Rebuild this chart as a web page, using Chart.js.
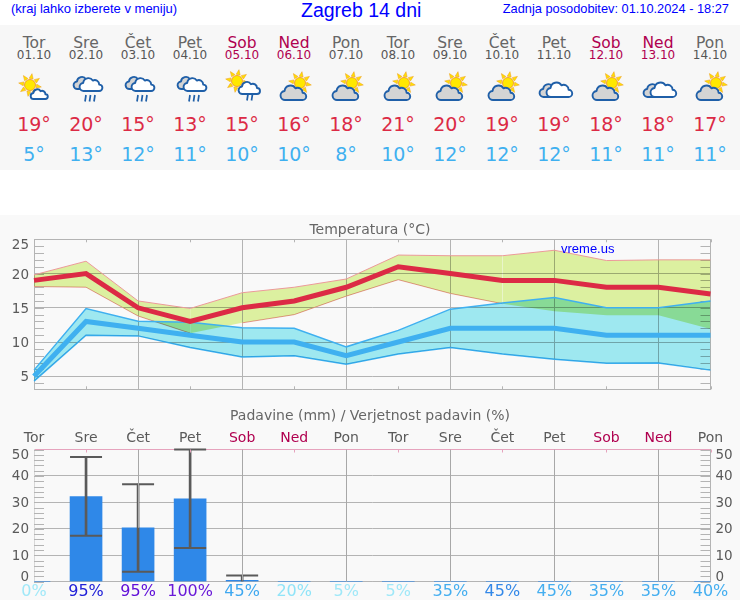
<!DOCTYPE html>
<html lang="sl">
<head>
<meta charset="utf-8">
<title>Zagreb 14 dni</title>
<script src="https://cdn.jsdelivr.net/npm/chart.js@4"></script>
<style>
	html, body { margin: 0; padding: 0; background: #f9f9f9; }
	#page { position: relative; width: 740px; height: 600px; overflow: hidden; font-family: "DejaVu Sans", sans-serif; }
	#topbar { position: absolute; left: 0; top: 0; width: 740px; height: 25px; background: #fff; color: #0000ff; font-family: "Liberation Sans", sans-serif; }
	#topbar span { position: absolute; white-space: nowrap; }
	#gap { position: absolute; left: 0; top: 170px; width: 740px; height: 45px; background: #fff; }
	#days { position: absolute; left: 0; top: 25px; width: 740px; height: 145px; background: #f7f7f7; }
	.day { position: absolute; top: 0; width: 52px; text-align: center; }
	.day div { position: absolute; left: -10px; width: 72px; white-space: nowrap; }
	.name { top: 9px; font-size: 15.5px; color: #666; }
	.date { top: 23px; font-size: 12px; color: #555; }
	.wknd .name, .wknd .date { color: #b0004f; }
	.hi { top: 88px; font-size: 19px; color: #dc2a45; }
	.lo { top: 118px; font-size: 19px; color: #3fb0f0; }
	.day svg { position: absolute; left: 8px; top: 46px; overflow: visible; }
	canvas { position: absolute; left: 0; }
	#tempChart { top: 215px; }
	#rainChart { top: 400px; }
	#mark { position: absolute; left: 561px; top: 241px; font: 13px "Liberation Sans", sans-serif; color: #0000ff; }
</style>
</head>
<body>
<div id="page">
	<div id="topbar">
		<span style="left:11px;top:1px;font-size:13px">(kraj lahko izberete v meniju)</span>
		<span style="left:301px;top:-1px;font-size:19.5px">Zagreb 14 dni</span>
		<span style="right:11px;top:1px;font-size:12.8px">Zadnja posodobitev: 01.10.2024 - 18:27</span>
	</div>
	<div id="days"></div>
	<div id="gap"></div>
	<canvas id="tempChart" width="740" height="180"></canvas>
	<canvas id="rainChart" width="740" height="200"></canvas>
	<div id="mark">vreme.us</div>
</div>
<script>
const dayNames = ['Tor', 'Sre', 'Čet', 'Pet', 'Sob', 'Ned', 'Pon', 'Tor', 'Sre', 'Čet', 'Pet', 'Sob', 'Ned', 'Pon'];
const dayDates = ['01.10', '02.10', '03.10', '04.10', '05.10', '06.10', '07.10', '08.10', '09.10', '10.10', '11.10', '12.10', '13.10', '14.10'];
const dayIcons = ['sunCloud', 'rain', 'rain', 'rain', 'sunRain', 'sunGray', 'sunGray', 'sunGray', 'sunGray', 'sunGray', 'clouds', 'sunGray', 'clouds', 'sunGray'];

const tempMax = [19, 20, 15, 13, 15, 16, 18, 21, 20, 19, 19, 18, 18, 17];
const tempMin = [5, 13, 12, 11, 10, 10, 8, 10, 12, 12, 12, 11, 11, 11];
const maxUpper = [19.8, 21.8, 16, 14.9, 17.2, 18, 19.2, 22.7, 22.6, 22.6, 23.4, 21.9, 22, 22];
const maxLower = [18.1, 18, 13.8, 11.3, 12.8, 14, 16.7, 19.1, 17.1, 15.6, 14.5, 13.9, 13.9, 11.9];
const minUpper = [5.9, 14.9, 13.05, 12.9, 12.1, 12, 9.3, 11.7, 14.8, 15.7, 16.5, 15, 15, 16];
const minLower = [4.3, 11, 10.9, 9.2, 7.8, 8, 6.75, 8.25, 9.2, 8.25, 7.5, 6.9, 6.95, 5.9];
const tempTicks = [5, 10, 15, 20, 25];

const rainValues = [0, 32.2, 20.4, 31.3, 0.5, 0, 0, 0, 0, 0, 0, 0, 0, 0];
const rainRanges = [null, [17.4, 47.2], [3.8, 36.9], [12.7, 50], [0, 2.3], null, null, null, null, null, null, null, null, null];
const rainProb = ['0%', '95%', '95%', '100%', '45%', '20%', '5%', '5%', '35%', '45%', '45%', '35%', '35%', '40%'];
const probColors = ['#a0e8f8', '#2020d8', '#6010d8', '#6a1ad8', '#3fa8f0', '#90e4f8', '#a0e8f8', '#a0e8f8', '#44aef0', '#3388e8', '#44aef0', '#44aef0', '#44aef0', '#44aef0'];

const GRID = '#b4b4b4';
const TEXT = '#5a5a5a';
const WEEKEND = '#b0004f';
const PINK = '#e6a3bd';

function isWeekend(i) {
	return dayNames[i] === 'Sob' || dayNames[i] === 'Ned';
}

// weather icons, 36x32
function sun(cx, cy, r) {
	let rays = '';
	for (let a = 0; a < 360; a += 45) {
		rays += `<path d="M${cx - 2} ${cy - r - 1} L${cx} ${cy - r - 6} L${cx + 2} ${cy - r - 1} Z" transform="rotate(${a + 10} ${cx} ${cy})" fill="#ffe000" stroke="#f0a020" stroke-width=".5"/>`;
	}
	return rays + `<circle cx="${cx}" cy="${cy}" r="${r}" fill="#ffe800" stroke="#f09020" stroke-width=".8"/>`;
}
function cloud(x, y, s, fill) {
	return `<path transform="translate(${x} ${y}) scale(${s})" d="M5 20 a5 5 0 0 1 -1 -10 a6.5 6.5 0 0 1 12 -3 a5.5 5.5 0 0 1 8 5 a4 4 0 0 1 0 8 Z" fill="${fill}" stroke="#1f5fa8" stroke-width="${1.9 / s}" stroke-linejoin="round"/>`;
}
function drops(x, y, n) {
	let out = '';
	for (let i = 0; i < n; i++) {
		out += `<path d="M${x + i * 4.5} ${y} l-1 6.5" stroke="#1f5fa8" stroke-width="1.7" fill="none"/>`;
	}
	return out;
}
const iconParts = {
	sunCloud: () => sun(14, 14, 5.5) + cloud(15, 16, 0.6, '#fff'),
	rain: () => cloud(6, 3, 0.75, '#d4d4d4') + cloud(12, 4, 0.8, '#fff') + drops(18, 24, 3),
	sunRain: () => sun(13, 10, 5.5) + cloud(15, 8, 0.75, '#fff') + drops(24, 23, 2),
	sunGray: () => sun(24, 12, 5.5) + cloud(5, 11, 0.9, '#d4d4d4'),
	clouds: () => cloud(4, 10, 0.8, '#d4d4d4') + cloud(11, 8, 0.9, '#fff')
};

document.getElementById('days').innerHTML = dayNames.map((name, i) => `
	<div class="day${isWeekend(i) ? ' wknd' : ''}" style="left:${8 + i * 52}px">
		<div class="name">${name}</div>
		<div class="date">${dayDates[i]}</div>
		<svg width="36" height="32" viewBox="0 0 36 32">${iconParts[dayIcons[i]]()}</svg>
		<div class="hi">${tempMax[i]}°</div>
		<div class="lo">${tempMin[i]}°</div>
	</div>`).join('');

// fixed axis size, without the room Chart.js keeps for half a label at the ends
function fixedBox(size) {
	return s => {
		if (s.isHorizontal()) s.height = size;
		else s.width = size;
		s.paddingTop = s.paddingBottom = s.paddingLeft = s.paddingRight = 0;
	};
}

// the small ticks inside the frame and the inset first/last axis labels
function drawFrameMarks(chart, opts) {
	const { ctx, chartArea: a, scales } = chart;
	const y = scales.y;
	ctx.save();
	ctx.lineWidth = 1;
	ctx.strokeStyle = GRID;
	for (let v = Math.ceil(y.min); v <= y.max; v += opts.minorStep) {
		const py = Math.round(y.getPixelForValue(v)) + 0.5;
		ctx.beginPath();
		ctx.moveTo(a.left, py);
		ctx.lineTo(a.left + 10, py);
		ctx.moveTo(a.right - 10, py);
		ctx.lineTo(a.right, py);
		ctx.stroke();
	}
	dayNames.forEach((d, i) => {
		const px = Math.round(scales.x.getPixelForValue(i)) + 0.5;
		if (i % 2 === 0) {
			// every second day gets a full line, down to the top of its bar
			if (opts.dayLines && i > 0) {
				ctx.strokeStyle = '#a8a8a8';
				ctx.beginPath();
				ctx.moveTo(px, a.top);
				ctx.lineTo(px, y.getPixelForValue(rainValues[i]));
				ctx.stroke();
			}
			return;
		}
		ctx.strokeStyle = opts.topColor;
		ctx.beginPath();
		ctx.moveTo(px, a.top);
		ctx.lineTo(px, a.top + 3);
		ctx.stroke();
		if (opts.bottomTicks) {
			ctx.strokeStyle = GRID;
			ctx.beginPath();
			ctx.moveTo(px, a.bottom - 3);
			ctx.lineTo(px, a.bottom);
			ctx.stroke();
		}
	});
	ctx.font = '13.5px "DejaVu Sans"';
	ctx.fillStyle = TEXT;
	ctx.textBaseline = 'middle';
	opts.inset.forEach(label => {
		const py = y.getPixelForValue(label.value) + label.shift;
		ctx.textAlign = 'right';
		ctx.fillText(String(label.value), a.left - 5, py);
		if (opts.rightLabels) {
			ctx.textAlign = 'left';
			ctx.fillText(String(label.value), a.right + 5, py);
		}
	});
	ctx.restore();
}

const frameMarks = {
	id: 'frameMarks',
	beforeDatasetsDraw(chart, args, opts) {
		if (!opts.onTop) drawFrameMarks(chart, opts);
	},
	afterDatasetsDraw(chart, args, opts) {
		if (opts.onTop) drawFrameMarks(chart, opts);
	}
};

// the two temperature bands darken each other where they overlap, green in the middle
const bandBlend = {
	id: 'bandBlend',
	beforeDatasetsDraw(chart) {
		chart.ctx.globalCompositeOperation = 'multiply';
	},
	beforeDatasetDraw(chart) {
		chart.ctx.globalCompositeOperation = 'source-over';
	},
	afterDatasetDraw(chart) {
		chart.ctx.globalCompositeOperation = 'multiply';
	},
	afterDatasetsDraw(chart) {
		chart.ctx.globalCompositeOperation = 'source-over';
	}
};

function band(data, fill, line, width) {
	return { data, fill, backgroundColor: fill ? line.bg : undefined, borderColor: line.edge, borderWidth: width, pointRadius: 0, tension: 0 };
}
const redBand = { edge: '#ec9a9a', bg: '#dcf0a0' };
const blueBand = { edge: '#3fb0f0', bg: '#9ee8f0' };

const redLowerEdge = band(maxLower, false, redBand, 1);
// hidden where it runs under the blue band
redLowerEdge.segment = { borderColor: c => (c.p0DataIndex === 3 || c.p0DataIndex >= 9 ? 'transparent' : undefined) };

new Chart(document.getElementById('tempChart'), {
	type: 'line',
	data: {
		labels: dayNames,
		datasets: [
			{ data: tempMax, borderColor: '#dc2a45', borderWidth: 5, pointRadius: 0, tension: 0 },
			{ data: tempMin, borderColor: '#3fb0f0', borderWidth: 5, pointRadius: 0, tension: 0 },
			band(minUpper, '+1', blueBand, 1.5),
			band(minLower, false, blueBand, 1.5),
			band(maxUpper, '+1', redBand, 1),
			redLowerEdge
		]
	},
	options: {
		responsive: false,
		animation: false,
		scales: {
			x: {
				offset: false,
				afterFit: fixedBox(5.7),
				ticks: { display: false, autoSkip: false },
				border: { color: GRID },
				grid: {
					drawTicks: false,
					color: c => (c.index % 2 === 0 || c.index === 13 ? GRID : 'transparent')
				}
			},
			y: {
				min: 3.1,
				max: 25,
				afterFit: fixedBox(34),
				afterBuildTicks: s => { s.ticks = tempTicks.map(value => ({ value })); },
				border: { color: GRID },
				grid: { color: GRID, drawTicks: false },
				ticks: {
					autoSkip: false,
					padding: 5,
					labelOffset: 1.5,
					color: TEXT,
					font: { family: 'DejaVu Sans', size: 13.5 },
					callback: v => (v === 25 ? '' : v)
				}
			},
			y2: {
				position: 'right',
				afterFit: fixedBox(29.5),
				ticks: { display: false },
				border: { display: false },
				grid: { display: false, drawTicks: false }
			}
		},
		plugins: {
			legend: { display: false },
			tooltip: { enabled: false },
			title: {
				display: true,
				text: 'Temperatura (°C)',
				color: '#666',
				font: { family: 'DejaVu Sans', size: 14, weight: 'normal' },
				padding: { top: 7, bottom: 0.5 }
			},
			frameMarks: { minorStep: 1, topColor: GRID, bottomTicks: true, rightLabels: false, inset: [{ value: 25, shift: 6 }] }
		}
	},
	plugins: [frameMarks, bandBlend]
});

const sideAxis = {
	min: 0,
	max: 50,
	border: { color: GRID },
	ticks: {
		stepSize: 10,
		autoSkip: false,
		padding: 5,
		labelOffset: 1,
		color: TEXT,
		font: { family: 'DejaVu Sans', size: 13.5 },
		callback: v => (v === 0 || v === 50 ? '' : v)
	}
};

new Chart(document.getElementById('rainChart'), {
	type: 'bar',
	data: {
		labels: rainProb,
		datasets: [
			{ type: 'line', data: rainRanges.map(r => r && r[1]), showLine: false, pointStyle: 'line', pointRadius: 16, pointBorderWidth: 2, pointBorderColor: '#5a5a5a', order: 0, clip: false },
			{ type: 'line', data: rainRanges.map(r => (r && r[0] > 0 ? r[0] : null)), showLine: false, pointStyle: 'line', pointRadius: 16, pointBorderWidth: 2, pointBorderColor: '#5a5a5a', order: 0, clip: false },
			{ data: rainRanges, barThickness: 2, grouped: false, backgroundColor: '#5a5a5a', order: 1 },
			{ data: rainValues, barThickness: 32, grouped: false, backgroundColor: '#2f88e8', order: 2 }
		]
	},
	options: {
		responsive: false,
		animation: false,
		scales: {
			x: {
				offset: false,
				afterFit: fixedBox(18.3),
				border: { color: GRID },
				grid: { display: false, drawTicks: false },
				ticks: {
					autoSkip: false,
					maxRotation: 0,
					padding: 1,
					font: { family: 'DejaVu Sans', size: 16 },
					color: c => probColors[c.index]
				}
			},
			x2: {
				type: 'category',
				position: 'top',
				labels: dayNames,
				offset: false,
				afterFit: fixedBox(24.7),
				border: { color: PINK },
				grid: { display: false, drawTicks: false },
				ticks: {
					autoSkip: false,
					maxRotation: 0,
					padding: 3,
					font: { family: 'DejaVu Sans', size: 14 },
					color: c => (isWeekend(c.index) ? WEEKEND : TEXT)
				}
			},
			y: {
				...sideAxis,
				afterFit: fixedBox(34),
				border: { color: '#d8d8d8' },
				grid: {
					drawTicks: false,
					color: c => (c.tick.value === 50 ? PINK : GRID)
				}
			},
			y2: {
				...sideAxis,
				position: 'right',
				afterFit: fixedBox(29.5),
				grid: { display: false, drawTicks: false }
			}
		},
		plugins: {
			legend: { display: false },
			tooltip: { enabled: false },
			title: {
				display: true,
				text: 'Padavine (mm) / Verjetnost padavin (%)',
				color: '#666',
				font: { family: 'DejaVu Sans', size: 14, weight: 'normal' },
				padding: { top: 8, bottom: 0 }
			},
			frameMarks: {
				onTop: true,
				minorStep: 2,
				topColor: PINK,
				bottomTicks: false,
				dayLines: true,
				rightLabels: true,
				inset: [{ value: 50, shift: 5.5 }, { value: 0, shift: -4.5 }]
			}
		}
	},
	plugins: [frameMarks]
});
</script>
</body>
</html>
